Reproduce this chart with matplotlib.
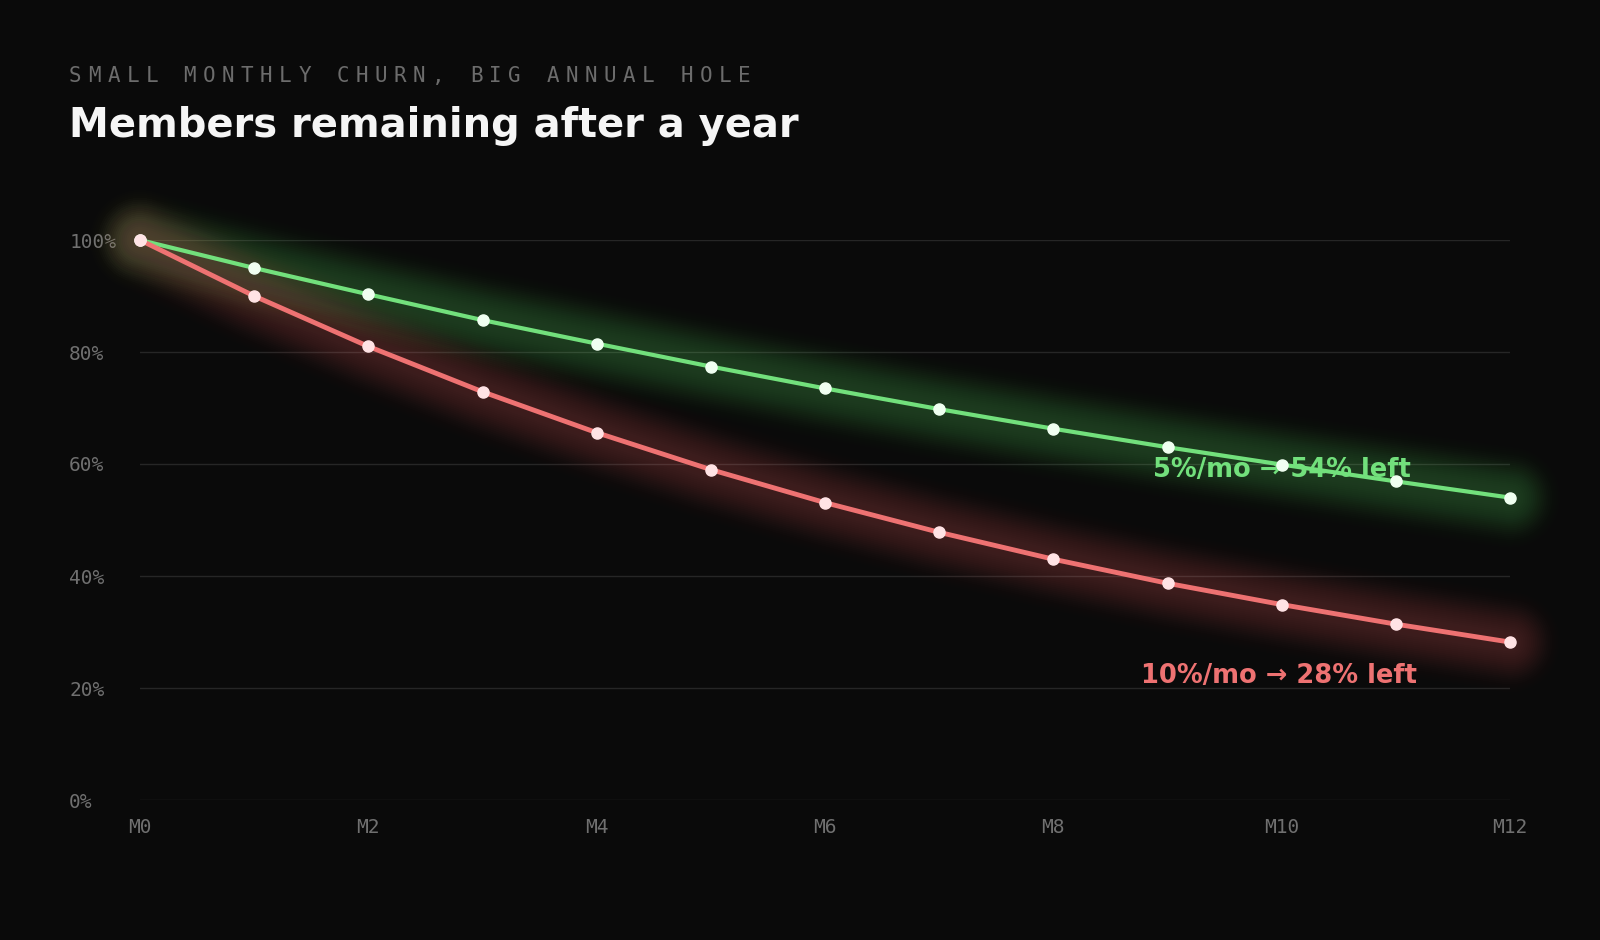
import matplotlib
matplotlib.use("Agg")
import matplotlib.pyplot as plt
import numpy as np

months = list(range(13))
month_labels = ["M0", "M2", "M4", "M6", "M8", "M10", "M12"]
churn5 = [100, 95.0, 90.3, 85.7, 81.5, 77.4, 73.5, 69.8, 66.3, 63.0, 59.9, 56.9, 54.0]
churn10 = [100, 90.0, 81.0, 72.9, 65.6, 59.0, 53.1, 47.8, 43.0, 38.7, 34.9, 31.4, 28.2]
y_ticks = [0, 20, 40, 60, 80, 100]
subtitle = "SMALL MONTHLY CHURN, BIG ANNUAL HOLE"
title = "Members remaining after a year"

BG = "#0a0a0a"
GREEN = "#72e07c"
RED = "#ee7272"
W, H = 1600, 940

fig = plt.figure(figsize=(16, 9.4), dpi=100, facecolor=BG)
ax = fig.add_axes([140 / W, 140 / H, 1370 / W, 560 / H], facecolor=BG)

# halo radii (pt) and per-layer opacity, roughly a gaussian blur
radii = np.linspace(1.5, 50, 36)
sigma = 17.0
weights = radii * np.exp(-radii ** 2 / (2 * sigma ** 2))
alphas = 0.36 * weights / weights.sum()


def glow_line(x, y, color, lw, dot):
    for r, a in zip(radii[::-1], alphas[::-1]):
        ax.plot(x, y, color=color, lw=2 * r, alpha=a, solid_capstyle="round",
                solid_joinstyle="round", zorder=2, clip_on=False)
    ax.plot(x, y, color=color, lw=lw, zorder=3, solid_capstyle="round", clip_on=False)
    ax.plot(x, y, ls="none", marker="o", ms=8, mfc=dot, mec=dot, zorder=4, clip_on=False)


glow_line(months, churn5, GREEN, 3.0, "#f0fff1")
glow_line(months, churn10, RED, 3.5, "#ffe3e5")

ax.set_xlim(0, 12)
ax.set_ylim(0, 100)
ax.set_xticks(range(0, 13, 2))
ax.set_xticklabels(month_labels)
ax.set_yticks(y_ticks)
ax.set_yticklabels([f"{v}%" for v in y_ticks])
for lab in ax.get_yticklabels():
    lab.set_horizontalalignment("left")
ax.tick_params(axis="y", length=0, pad=51, labelsize=14, labelcolor="#707070")
ax.tick_params(axis="x", length=0, pad=13, labelsize=14, labelcolor="#707070")
for lab in ax.get_xticklabels() + ax.get_yticklabels():
    lab.set_fontfamily("DejaVu Sans Mono")
ax.grid(axis="y", color="#262626", lw=1)
ax.grid(axis="x", visible=False)
for s in ax.spines.values():
    s.set_visible(False)
ax.set_axisbelow(True)

ax.text(10.0, 59.0, "5%/mo \u2192 54% left", color=GREEN, fontsize=18.5, fontweight="bold",
        ha="center", va="center", zorder=2.5)
ax.text(9.98, 22.2, "10%/mo \u2192 28% left", color=RED, fontsize=18.5, fontweight="bold",
        ha="center", va="center", zorder=2.5)

# letter-spaced kicker
for i, ch in enumerate(subtitle):
    fig.text((69 + i * 19.1) / W, 1 - 82 / H, ch, color="#6c6c6c", fontsize=15,
             family="DejaVu Sans Mono", ha="left", va="baseline")
fig.text(69 / W, 1 - 137 / H, title, color="#f5f5f5", fontsize=28.8, fontweight="bold",
         ha="left", va="baseline")

fig.savefig("out.png", dpi=100, facecolor=BG)
